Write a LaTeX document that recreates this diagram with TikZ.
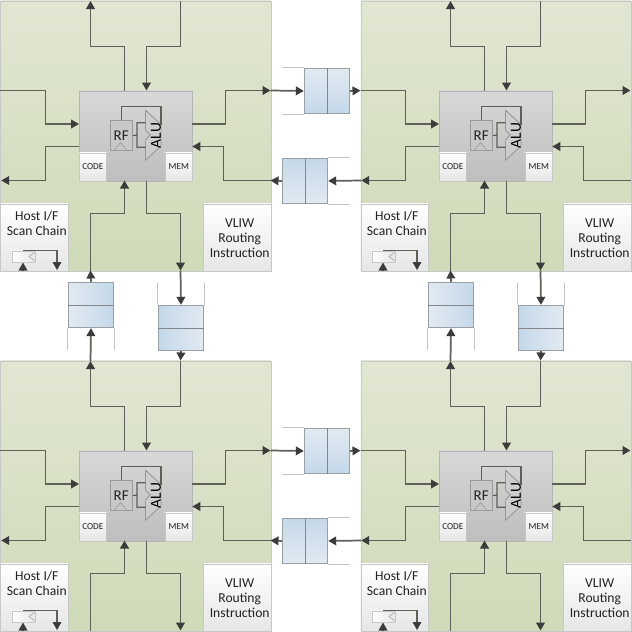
\documentclass[tikz,border=0pt]{standalone}
\usepackage{fontspec}
\setmainfont{Carlito}
\usetikzlibrary{arrows.meta}
\definecolor{wire}{HTML}{5C6058}
\definecolor{edgeg}{HTML}{B4B4B4}
\definecolor{TileTop}{HTML}{E1E6D2}
\definecolor{TileBot}{HTML}{CFDAB8}
\definecolor{CoreTop}{HTML}{D8D8D8}
\definecolor{CoreBot}{HTML}{BEBEBE}
\definecolor{WhiteEdge}{HTML}{C8C8C8}
\definecolor{WhiteBot}{HTML}{E6E6E6}
\definecolor{RFFill}{HTML}{C8C8C8}
\definecolor{TextC}{HTML}{222222}
\definecolor{ArrowC}{HTML}{3C3C3C}
\definecolor{FifoEdge}{HTML}{9A9FA4}
\definecolor{FifoThin}{HTML}{C4C4C4}
\definecolor{FifoA}{HTML}{E2EAF2}
\definecolor{FifoB}{HTML}{C4D8E9}
\tikzset{
  x=0.75pt,y=-0.75pt,
  tile/.style={draw=WhiteEdge,line width=0.5pt,top color=TileTop,bottom color=TileBot,minimum width=202.5pt,minimum height=202.5pt,inner sep=0,anchor=north west},
  conn/.style={draw=wire,line width=1.3pt},
  arr/.style={conn,-{Triangle[length=6pt,width=6.5pt,color=ArrowC]}},
  corebox/.style={draw=edgeg,line width=0.6pt,top color=CoreTop,bottom color=CoreBot,minimum width=84.75pt,minimum height=67.5pt,inner sep=0,anchor=north west},
  whitebox/.style={draw=WhiteEdge,line width=0.5pt,top color=white,bottom color=WhiteBot,inner sep=0,anchor=north west},
  memo/.style={whitebox,minimum width=20.25pt,minimum height=21pt,font=\fontsize{6.9pt}{7pt}\selectfont,text=TextC},
  ctrlbox/.style={whitebox,minimum width=50.6pt,minimum height=50.25pt},
  ctrltext/.style={inner sep=0,align=center,text=TextC,font=\fontsize{10.2pt}{11.25pt}\selectfont},
  rfbox/.style={draw=edgeg!85!black,line width=0.6pt,fill=RFFill,minimum width=16.9pt,minimum height=22.5pt,inner sep=0,anchor=north west,font=\fontsize{11.2pt}{12pt}\selectfont,text=TextC},
  fifoh/.style={draw=FifoEdge,line width=0.7pt,inner sep=0,minimum width=34.1pt,minimum height=34.05pt,anchor=north west},
  thinl/.style={draw=FifoThin,line width=0.6pt},
  divl/.style={draw=FifoEdge!85!black,line width=0.7pt},
}
\begin{document}
\begin{tikzpicture}
\useasboundingbox (0.5,0.5) rectangle (632.5,632.5);
\fill[white] (0.5,0.5) rectangle (632.5,632.5);
\foreach \dx/\dy/\id in {0/0/a,360/0/b,0/360/c,360/360/d}{
\begin{scope}[shift={(\dx,\dy)}]
  \node[tile] (tile\id) at (1,1) {};
  \node[corebox] (core\id) at (79.5,91) {};
  \node[memo] (code\id) at (79.5,153) {CODE};
  \node[memo] (mem\id) at (165.5,153) {MEM};
  \node[ctrlbox] (host\id) at (1,204) {};
  \node[ctrltext] (hostt\id) at (37.3,224) {Host I/F\\Scan Chain};
  \node[ctrlbox] (vliw\id) at (203.7,204) {};
  \node[ctrltext] (vliwt\id) at (240.2,238.5) {VLIW\\Routing\\Instruction};
  \node[rfbox] (rf\id) at (110,120.7) {RF};
  \draw[edgeg!85!black,line width=0.5pt] (115,150.5) -- (121,143) -- (127,150.5);
  \draw[edgeg!85!black,line width=0.7pt,fill=CoreTop!95!black] (146,110.7) -- (161.5,125) -- (161.5,146.5) -- (146,160.7) -- (146,140.5) -- (150.5,135.5) -- (146,130.5) -- cycle;
  \node[rotate=90,font=\fontsize{11.6pt}{12pt}\selectfont,text=black,inner sep=0] (alu\id) at (156.5,136) {ALU};
  \draw[conn,line width=1pt] (rf\id.north) |- (161.5,107.3) -- (161.5,125);
  \draw[conn,line width=1pt] (rf\id.east) -- (137.5,135.5) (146,123.3) -- (137.5,123.3) -- (137.5,147.7) -- (146,147.7);
  \coordinate (li\id) at (1,91);
  \coordinate (lo\id) at (1.7,181);
  \coordinate (ro\id) at (271,91);
  \coordinate (ri\id) at (271,181);
  \coordinate (to\id) at (91,1.5);
  \coordinate (ti\id) at (181,1);
  \coordinate (bi\id) at (91,271);
  \coordinate (bo\id) at (181,271);
  \draw[arr] (li\id) -- (46,91) -- (46,124.5) -- (79.5,124.5);
  \draw[arr] (79.5,147) -- (46,147) -- (46,181) -- (lo\id);
  \draw[arr] (192.8,124.5) -- (226,124.5) -- (226,91) -- (ro\id);
  \draw[arr] (ri\id) -- (224,181) -- (224,147) -- (192.8,147);
  \draw[arr] (125,91) -- (125,47) -- (91,47) -- (to\id);
  \draw[arr] (ti\id) -- (181,47) -- (147,47) -- (147,91);
  \draw[arr] (bi\id) -- (91,214) -- (125,214) -- (125,181);
  \draw[arr] (147,181) -- (147,214) -- (181,214) -- (bo\id);
  \node[draw=WhiteEdge,line width=0.5pt,left color=white,right color=WhiteBot,minimum width=17.4pt,minimum height=8.8pt,inner sep=0,anchor=north west] (reg\id) at (12.3,251) {};
  \draw[WhiteEdge!85!black,line width=0.5pt] (35,253) -- (29.5,257) -- (35,261);
  \coordinate (sa\id) at (23.5,271.5);
  \coordinate (sb\id) at (57.5,270.5);
  \coordinate (sc\id) at (23.5,251);
  \coordinate (sd\id) at (23.5,263);
  \draw[arr,line width=0.9pt] (sa\id) -- (sd\id);
  \draw[arr,line width=0.9pt] (sc\id) -- (57.5,251) -- (sb\id);
\end{scope}
}
% horizontal FIFOs
\foreach \dy/\id in {0/p,360/q}{
\begin{scope}[shift={(0,\dy)}]
  \node[fifoh,top color=FifoA,bottom color=FifoB] (up\id) at (304.3,68.3) {};
  \draw[divl] (up\id.north) -- (up\id.south);
  \draw[thinl] (up\id.north west) -- ++(-22,0) (up\id.south west) -- ++(-22,0);
  \node[fifoh,top color=FifoB,bottom color=FifoA] (lw\id) at (282.3,158.3) {};
  \draw[divl] (lw\id.north) -- (lw\id.south);
  \draw[thinl] (lw\id.north east) -- ++(22,0) (lw\id.south east) -- ++(22,0);
\end{scope}
}
\coordinate (xa) at (361,91);
\coordinate (xc) at (361,451);
\draw[arr] (roa) -- (upp.west);
\draw[arr] (upp.east) -- (xa);
\draw[arr] (lob) -- (lwp.east);
\draw[arr] (lwp.west) -- (ria);
\draw[arr] (roc) -- (upq.west);
\draw[arr] (upq.east) -- (xc);
\draw[arr] (lod) -- (lwq.east);
\draw[arr] (lwq.west) -- (ric);
% vertical FIFOs
\foreach \dx/\id in {0/r,360/s}{
\begin{scope}[shift={(\dx,0)}]
  \node[fifoh,left color=FifoA,right color=FifoB] (lf\id) at (68.3,282.3) {};
  \draw[divl] (lf\id.west) -- (lf\id.east);
  \draw[thinl] (lf\id.south west) -- ++(0,22) (lf\id.south east) -- ++(0,22);
  \node[fifoh,left color=FifoB,right color=FifoA] (rt\id) at (158.3,305.3) {};
  \draw[divl] (rt\id.west) -- (rt\id.east);
  \draw[thinl] (rt\id.north west) -- ++(0,-22) (rt\id.north east) -- ++(0,-22);
\end{scope}
}
\draw[arr] (toc) -- (lfr.south);
\draw[arr] (lfr.north) -- (bia);
\draw[arr] (boa) -- (rtr.north);
\draw[arr] (rtr.south) -- (tic);
\draw[arr] (tod) -- (lfs.south);
\draw[arr] (lfs.north) -- (bib);
\draw[arr] (bob) -- (rts.north);
\draw[arr] (rts.south) -- (tid);
\end{tikzpicture}
\end{document}
